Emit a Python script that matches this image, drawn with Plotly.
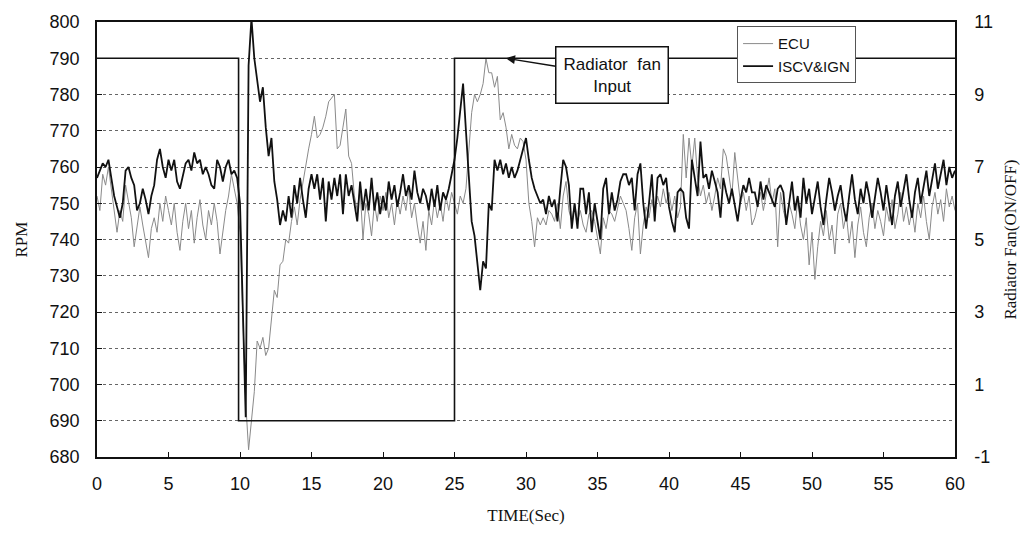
import numpy as np
import plotly.graph_objects as go

# Engine speed samples every 0.2 s from 0 to 60 s (one row per second)
ISCV_IGN_RPM = [
    757, 759, 761, 760, 762,
    757, 752, 749, 746, 750,
    759, 760, 757, 755, 748,
    750, 754, 751, 747, 752,
    755, 762, 765, 760, 757,
    762, 759, 762, 756, 754,
    758, 761, 762, 759, 764,
    761, 762, 758, 760, 758,
    755, 754, 762, 760, 756,
    760, 762, 758, 759, 757,
    750, 722, 691, 788, 801,
    790, 784, 778, 782, 771,
    763, 768, 756, 751, 744,
    748, 745, 752, 746, 755,
    750, 757, 751, 746, 754,
    758, 754, 758, 751, 757,
    745, 756, 751, 757, 752,
    758, 747, 758, 752, 755,
    750, 745, 756, 748, 754,
    748, 757, 748, 753, 747,
    752, 748, 756, 751, 755,
    749, 753, 758, 752, 755,
    751, 759, 753, 750, 754,
    752, 748, 754, 749, 755,
    748, 753, 751, 754, 758,
    762, 768, 775, 783, 770,
    757, 745, 741, 734, 726,
    734, 732, 750, 748, 762,
    759, 762, 758, 761, 757,
    760, 757, 759, 762, 765,
    768, 762, 757, 754, 752,
    750, 751, 747, 752, 749,
    751, 745, 754, 762, 760,
    755, 743, 750, 743, 754,
    754, 747, 753, 742, 750,
    745, 740, 754, 757, 747,
    753, 748, 751, 756, 758,
    758, 755, 757, 748, 758,
    761, 750, 743, 750, 758,
    745, 757, 758, 755, 757,
    749, 745, 742, 753, 754,
    753, 746, 743, 762, 757,
    752, 767, 757, 758, 754,
    759, 756, 753, 746, 757,
    753, 750, 754, 750, 745,
    751, 755, 753, 757, 753,
    753, 749, 756, 751, 755,
    753, 751, 749, 754, 755,
    753, 744, 750, 756, 748,
    752, 746, 757, 750, 754,
    747, 752, 756, 749, 744,
    751, 757, 753, 748, 752,
    755, 749, 745, 752, 758,
    751, 747, 754, 750, 756,
    752, 746, 751, 757, 753,
    748, 755, 750, 744, 752,
    756, 749, 753, 758, 751,
    746, 753, 757, 750, 755,
    759, 752, 756, 761, 754,
    758, 762, 755, 760, 757,
    759,
]

ECU_RPM = [
    752, 748, 758, 755, 760,
    754, 747, 742, 748, 745,
    755, 750, 746, 738, 744,
    749, 744, 740, 735, 743,
    746, 742, 750, 745, 752,
    748, 744, 750, 742, 737,
    745, 750, 743, 748, 739,
    746, 751, 744, 740, 748,
    744, 750, 745, 736, 742,
    748, 752, 758, 754, 750,
    742, 718, 695, 682, 690,
    698, 712, 710, 713, 708,
    710, 719, 726, 724, 733,
    734, 740, 739, 745, 749,
    744, 751, 756, 760, 765,
    769, 774, 768, 769, 771,
    774, 778, 779, 780, 765,
    766, 771, 776, 763, 761,
    752, 748, 754, 740, 750,
    747, 741, 750, 745, 752,
    748, 753, 746, 750, 744,
    751, 747, 752, 748, 754,
    746, 750, 744, 739, 745,
    737, 748, 744, 751, 746,
    750, 745, 752, 748, 753,
    750, 747, 752, 750, 754,
    766, 775, 780, 778, 780,
    783, 790, 786, 786, 782,
    785, 773, 775, 771, 765,
    769, 766, 765, 768, 767,
    762, 750, 745, 738, 746,
    744, 746, 744, 748, 747,
    745, 750, 743, 752, 756,
    748, 745, 750, 745, 748,
    744, 742, 747, 748, 745,
    740, 736, 746, 743, 748,
    747, 745, 749, 752, 750,
    748, 743, 737, 746, 750,
    736, 744, 749, 746, 751,
    747, 752, 749, 754, 750,
    753, 748, 752, 746, 749,
    769, 757, 768, 760, 768,
    757, 752, 755, 750, 753,
    748, 752, 757, 754, 765,
    763, 757, 752, 764, 756,
    750, 753, 748, 752, 744,
    746, 750, 753, 748, 752,
    757, 750, 754, 738, 753,
    748, 745, 750, 747, 743,
    751, 744, 740, 746, 733,
    742, 729, 738, 745, 741,
    748, 740, 744, 736, 747,
    750, 743, 747, 739, 745,
    735, 744, 749, 742, 738,
    746, 750, 743, 748, 745,
    741, 749, 745, 751, 743,
    747, 753, 745, 749, 744,
    748, 742, 750, 746, 752,
    745, 740, 749, 753, 747,
    751, 745, 754, 749, 752,
    748,
]

# Radiator fan command (ON = 10, OFF = 0 on the right axis)
FAN_TIME = [0, 9.9, 9.9, 25.0, 25.0, 60]
FAN_STATE = [10, 10, 0, 0, 10, 10]

SAMPLE_STEP = 0.2
time_s = np.round(np.arange(len(ECU_RPM)) * SAMPLE_STEP, 1)

X_TICKS = list(range(0, 61, 5))
Y_TICKS = list(range(680, 801, 10))
Y2_TICKS = [-1, 1, 3, 5, 7, 9, 11]
Y2_LABELS = ["-1", "1", "3", "5", "7", "9", "11"]

SANS = "Liberation Sans, Arial, sans-serif"
SERIF = "Liberation Serif, Times New Roman, serif"

fig = go.Figure()
fig.add_trace(go.Scatter(
    x=time_s, y=ECU_RPM, name="ECU", mode="lines",
    line=dict(color="#8a8a8a", width=1),
))
fig.add_trace(go.Scatter(
    x=time_s, y=ISCV_IGN_RPM, name="ISCV&IGN", mode="lines",
    line=dict(color="#111111", width=1.8),
))
fig.add_trace(go.Scatter(
    x=FAN_TIME, y=FAN_STATE, yaxis="y2", mode="lines", showlegend=False,
    line=dict(color="#111111", width=1.6),
))

fig.add_annotation(
    x=28.6, y=790, xref="x", yref="y",
    text="Radiator  fan<br>Input",
    showarrow=True, arrowhead=2, arrowsize=1.2, arrowwidth=1.5,
    arrowcolor="#111111", ax=106, ay=17,
    font=dict(family=SANS, size=17, color="#111111"),
    bordercolor="#111111", borderwidth=1.5, borderpad=7,
    bgcolor="white",
)

axis_common = dict(
    showline=True, linecolor="#111111", linewidth=1.5,
    ticks="inside", ticklen=5, tickcolor="#111111",
    tickfont=dict(family=SANS, size=18, color="#111111"),
    zeroline=False,
)

fig.update_layout(
    width=1029, height=534,
    margin=dict(l=97, r=71, t=18, b=77),
    paper_bgcolor="white", plot_bgcolor="white",
    showlegend=True,
    legend=dict(
        x=0.746, y=0.99, xanchor="left", yanchor="top",
        bgcolor="white", bordercolor="#555555", borderwidth=1,
        font=dict(family=SANS, size=15, color="#111111"),
        tracegroupgap=4,
    ),
    xaxis=dict(
        range=[0, 60], tickvals=X_TICKS, mirror=True, showgrid=False,
        ticklabelstandoff=10,
        title=dict(text="TIME(Sec)", font=dict(family=SERIF, size=17, color="#111111"), standoff=16),
        **axis_common,
    ),
    yaxis=dict(
        range=[680, 800], tickvals=Y_TICKS, showgrid=True,
        gridcolor="#666666", gridwidth=1, griddash="dot",
        ticklabelstandoff=12,
        title=dict(text="RPM", font=dict(family=SERIF, size=17, color="#111111"), standoff=18),
        **axis_common,
    ),
    yaxis2=dict(
        range=[-1, 11], tickvals=Y2_TICKS, ticktext=Y2_LABELS,
        overlaying="y", side="right", showgrid=False,
        ticklabelstandoff=14,
        title=dict(text="Radiator Fan(ON/OFF)", font=dict(family=SERIF, size=17, color="#111111"), standoff=12),
        **axis_common,
    ),
)

fig.write_html("out.html")
